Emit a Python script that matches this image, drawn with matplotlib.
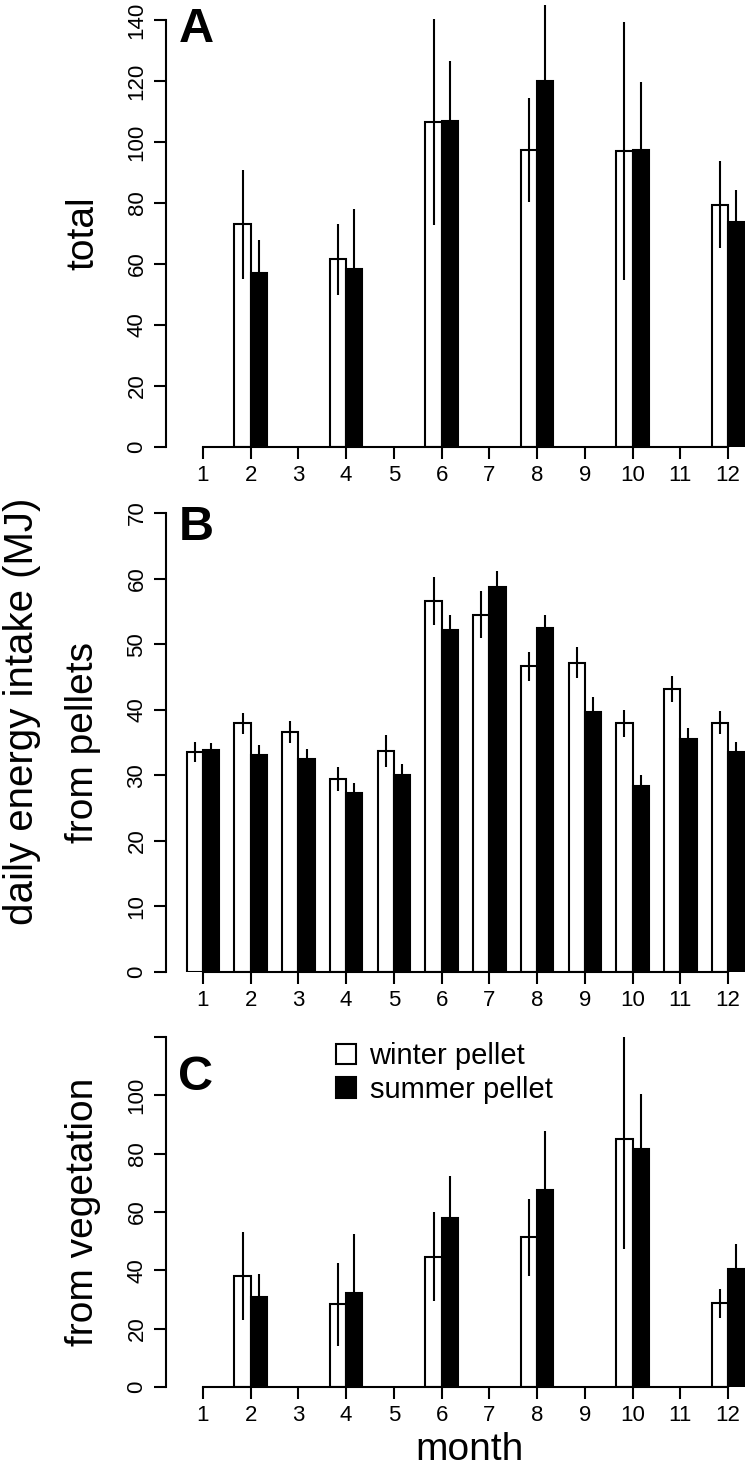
import numpy as np
import matplotlib
matplotlib.use("Agg")
import matplotlib.pyplot as plt
from matplotlib.patches import Patch

plt.rcParams['font.family'] = ['Liberation Sans', 'DejaVu Sans']

# months shown on every panel
months = np.arange(1, 13)

# A: total intake (only even months sampled)
months_even = [2, 4, 6, 8, 10, 12]
total_winter = [73.0, 61.5, 106.5, 97.4, 97.0, 79.5]
total_winter_err = [17.8, 11.7, 33.8, 17.0, 42.2, 14.2]
total_summer = [57.2, 58.3, 106.8, 120.1, 97.4, 73.7]
total_summer_err = [10.7, 19.8, 19.7, 24.8, 22.2, 10.4]

# B: intake from pellets (all months)
pellet_winter = [33.6, 37.9, 36.6, 29.4, 33.7, 56.6, 54.5, 46.6, 47.2, 37.9, 43.2, 38.0]
pellet_winter_err = [1.5, 1.6, 1.7, 1.85, 2.5, 3.7, 3.6, 2.25, 2.4, 2.0, 1.95, 1.75]
pellet_summer = [33.9, 33.1, 32.5, 27.3, 30.0, 52.1, 58.7, 52.5, 39.6, 28.4, 35.5, 33.6]
pellet_summer_err = [1.1, 1.5, 1.5, 1.5, 1.7, 2.4, 2.5, 2.0, 2.3, 1.7, 1.7, 1.5]

# C: intake from vegetation
veg_winter = [38.1, 28.3, 44.7, 51.4, 84.9, 28.7]
veg_winter_err = [15.2, 14.1, 15.2, 13.2, 37.7, 4.9]
veg_summer = [30.8, 32.1, 57.9, 67.4, 81.7, 40.3]
veg_summer_err = [8.1, 20.3, 14.6, 20.3, 18.6, 8.7]

W, H = 745, 1471
fig = plt.figure(figsize=(W / 100, H / 100), dpi=100)
lw = 1.5
bw = 0.34


def make_ax(top_px, bottom_px):
    left = 166 / W
    return fig.add_axes([left, 1 - bottom_px / H, 1 - left, (bottom_px - top_px) / H])


def draw_panel(ax, x, w_vals, w_err, s_vals, s_err, ytop, yticks, ybound, ticklabels=None):
    x = np.asarray(x, dtype=float)
    ax.bar(x - bw / 2, w_vals, width=bw, color='white', edgecolor='black', linewidth=lw, zorder=2)
    ax.bar(x + bw / 2, s_vals, width=bw, color='black', edgecolor='black', linewidth=lw, zorder=2)
    ax.errorbar(x - bw / 2, w_vals, yerr=w_err, fmt='none', ecolor='black',
                elinewidth=lw, capsize=0, zorder=3)
    ax.errorbar(x + bw / 2, s_vals, yerr=s_err, fmt='none', ecolor='black',
                elinewidth=lw, capsize=0, zorder=3)
    ax.set_xlim(0.225, 12.356)
    ax.set_ylim(0, ytop)
    for s in ['top', 'right']:
        ax.spines[s].set_visible(False)
    ax.spines['left'].set_bounds(0, ybound)
    ax.spines['bottom'].set_bounds(1, 12)
    for s in ['left', 'bottom']:
        ax.spines[s].set_linewidth(lw)
    ax.set_xticks(months)
    ax.set_xticklabels([str(m) for m in months])
    ax.set_yticks(yticks)
    if ticklabels is not None:
        ax.set_yticklabels(ticklabels)
    ax.tick_params(axis='both', length=8.3, width=lw, labelsize=16, direction='out')
    ax.tick_params(axis='x', pad=5)
    ax.tick_params(axis='y', pad=5)
    plt.setp(ax.get_yticklabels(), rotation=90, va='center')
    ax.patch.set_alpha(0)


axA = make_ax(0, 447)
draw_panel(axA, months_even, total_winter, total_winter_err, total_summer, total_summer_err,
           447 / 3.05, np.arange(0, 141, 20), 140)

axB = make_ax(490, 972)
draw_panel(axB, months, pellet_winter, pellet_winter_err, pellet_summer, pellet_summer_err,
           (972 - 490) / 6.557, np.arange(0, 71, 10), 70)

axC = make_ax(1037, 1387)
draw_panel(axC, months_even, veg_winter, veg_winter_err, veg_summer, veg_summer_err,
           120, [0, 20, 40, 60, 80, 100, 120], 120,
           ticklabels=['0', '20', '40', '60', '80', '100', ''])

axC.legend(handles=[Patch(facecolor='white', edgecolor='black', linewidth=lw, label='winter pellet'),
                    Patch(facecolor='black', edgecolor='black', linewidth=lw, label='summer pellet')],
           loc='upper left', bbox_to_anchor=(336 / W, 1 - 1042 / H), bbox_transform=fig.transFigure,
           frameon=False, fontsize=21, handlelength=0.7, handleheight=0.7,
           handletextpad=0.45, labelspacing=0.2, borderpad=0, borderaxespad=0)

# panel letters
for letter, ypx in [('A', 42), ('B', 540), ('C', 1090)]:
    fig.text(196 / W, 1 - ypx / H, letter, fontsize=35, fontweight='bold',
             ha='center', va='baseline')

# axis titles
fig.text(83 / W, 1 - 233 / H, 'total', rotation=90, fontsize=28, ha='center', va='center')
fig.text(83 / W, 1 - 742 / H, 'from pellets', rotation=90, fontsize=28, ha='center', va='center')
fig.text(83 / W, 1 - 1212 / H, 'from vegetation', rotation=90, fontsize=28, ha='center', va='center')
fig.text(22 / W, 1 - 711 / H, 'daily energy intake (MJ)', rotation=90, fontsize=29,
         ha='center', va='center')
fig.text(469 / W, 1 - 1460 / H, 'month', fontsize=28, ha='center', va='baseline')

fig.savefig('out.png', dpi=100)
